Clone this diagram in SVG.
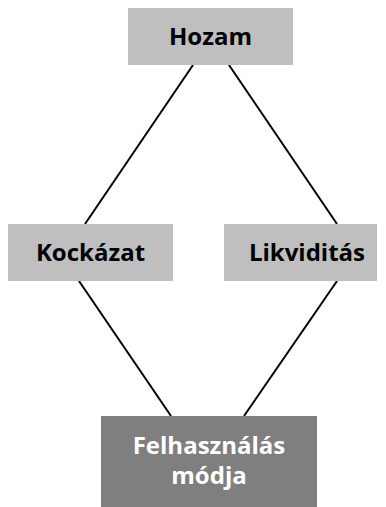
<svg xmlns="http://www.w3.org/2000/svg" width="386" height="507" viewBox="0 0 386 507">
<style>
.light{fill:#bfbfbf}
.dark{fill:#7f7f7f}
.t{font-family:"Open Sans","Liberation Sans",sans-serif;font-weight:bold;font-size:24px;text-anchor:middle}
.tb{fill:#000}
.tw{fill:#fff}
.c{stroke:#000;stroke-width:2;fill:none}
</style>
<rect width="386" height="507" fill="#fff"/>
<g id="connectors">
<line class="c" x1="193" y1="65" x2="85" y2="224"/>
<line class="c" x1="229" y1="65" x2="337" y2="224"/>
<line class="c" x1="79" y1="281" x2="171" y2="416"/>
<line class="c" x1="337" y1="281" x2="244" y2="416"/>
</g>
<g id="hozam">
<rect class="light" x="128" y="8" width="165" height="57"/>
<text class="t tb" x="210.5" y="45">Hozam</text>
</g>
<g id="kockazat">
<rect class="light" x="8" y="224" width="165" height="57"/>
<text class="t tb" x="90.5" y="261">Kockázat</text>
</g>
<g id="likviditas">
<rect class="light" x="224" y="224" width="153" height="57"/>
<text class="t tb" x="307" y="261">Likviditás</text>
</g>
<g id="felhasznalas">
<rect class="dark" x="101" y="416" width="216" height="91"/>
<text class="t tw" x="209" y="454">Felhasználás</text>
<text class="t tw" x="209" y="484">módja</text>
</g>
</svg>
